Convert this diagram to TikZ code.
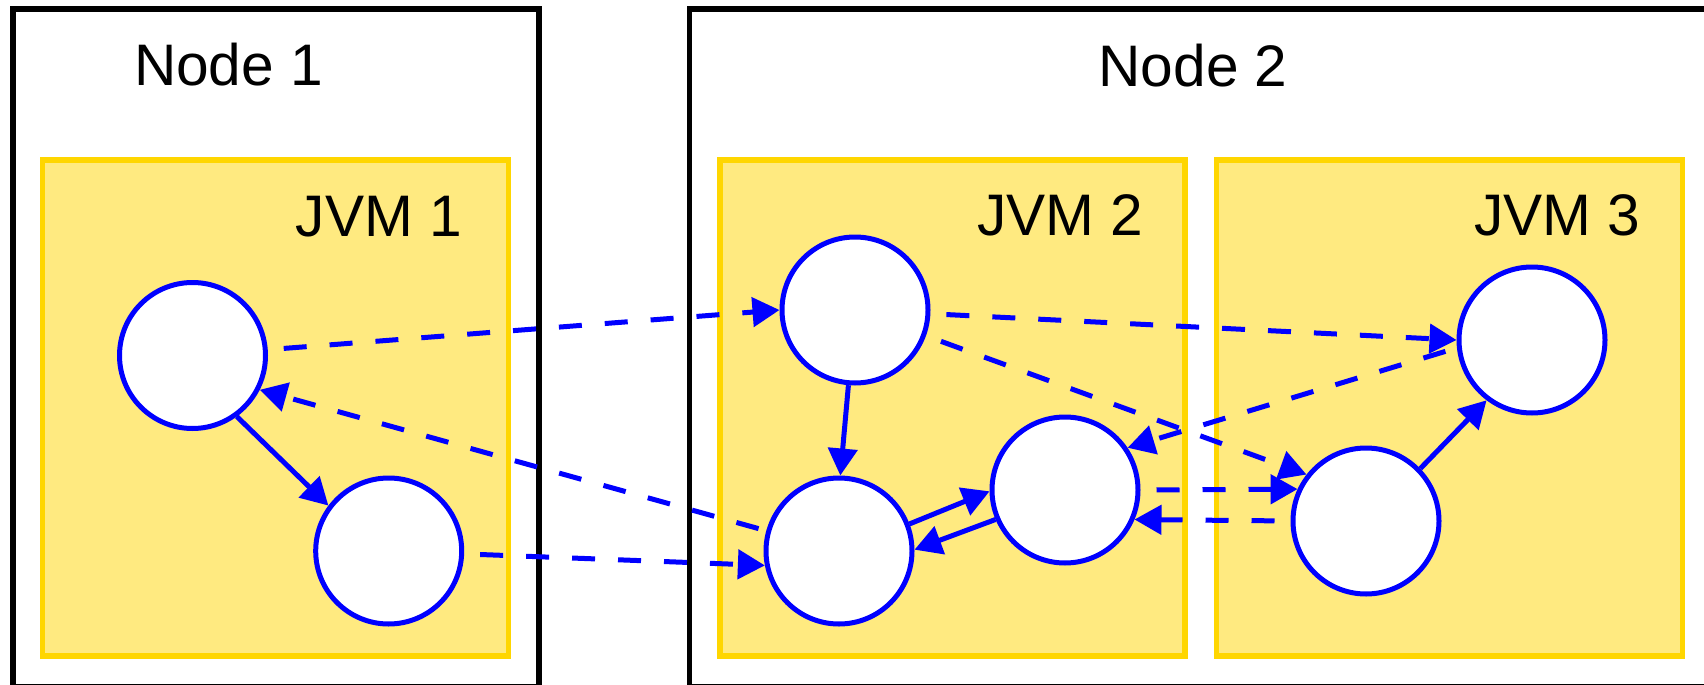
\documentclass[tikz,border=0pt]{standalone}
\usepackage{fontspec}
\setmainfont{Liberation Sans}
\usetikzlibrary{arrows.meta}
\definecolor{jvmfill}{RGB}{255,234,128}
\definecolor{jvmline}{RGB}{255,214,0}
\definecolor{objblue}{RGB}{0,0,255}
\tikzset{
  hostbox/.style={draw=black, line width=2.6pt},
  jvmbox/.style={draw=jvmline, fill=jvmfill, line width=2.6pt},
  obj/.style={circle, draw=objblue, fill=white, line width=2.5pt, minimum size=73pt, inner sep=0pt},
  lbl/.style={anchor=base, inner sep=0pt, font=\fontsize{29.3pt}{34pt}\selectfont},
  ref/.style={draw=objblue, line width=2.5pt, -{Triangle[length=13.5pt,width=14.5pt]}},
  remote/.style={ref, dash pattern=on 11.5pt off 11.5pt, shorten <=8pt},
}
\begin{document}
\begin{tikzpicture}[x=0.5pt,y=-0.5pt]
\useasboundingbox (0,0) rectangle (1704,685);
\clip (0,0) rectangle (1704,685);
% hosts
\draw[hostbox] (13,9) rectangle (539,686.5);
\draw[hostbox] (689.7,9) rectangle (1720,686.5);
\node[lbl] (n1) at (228.5,85) {Node 1};
\node[lbl] (n2) at (1193,86) {Node 2};
% JVMs
\draw[jvmbox] (42.5,160) rectangle (508.5,656);
\draw[jvmbox] (720,160) rectangle (1185,656);
\draw[jvmbox] (1216.5,160) rectangle (1682.5,656);
\node[lbl] (j1) at (379,236) {JVM 1};
\node[lbl] (j2) at (1060.5,235) {JVM 2};
\node[lbl] (j3) at (1557.5,235) {JVM 3};
% objects
\node[obj] (A) at (192.5,355.5) {};
\node[obj] (B) at (388.7,551) {};
\node[obj] (C) at (855,310) {};
\node[obj] (D) at (839,551) {};
\node[obj] (E) at (1065,490) {};
\node[obj] (F) at (1532,340) {};
\node[obj] (G) at (1366,521) {};
% local references
\draw[ref] (A.306) -- (B.143);
\draw[ref] (C.265) -- (D.89);
\draw[ref] (D.21) -- (E.181);
\draw[ref] (E.203) -- (D.1);
\draw[ref] (G.44) -- (F.233);
% remote references
\draw[remote] (A) -- (C.180);
\draw[remote, shorten <=4pt] (D) -- (A.333);
\draw[remote] (B) -- (D.191);
\draw[remote] (C) -- (F.180);
\draw[remote] (C) -- (G.142);
\draw[remote, shorten <=6pt] (F.186) -- (E.34);
\draw[remote] (E.0) -- (G.155.5);
\draw[remote] (G.180) -- (E.337);
\end{tikzpicture}
\end{document}
